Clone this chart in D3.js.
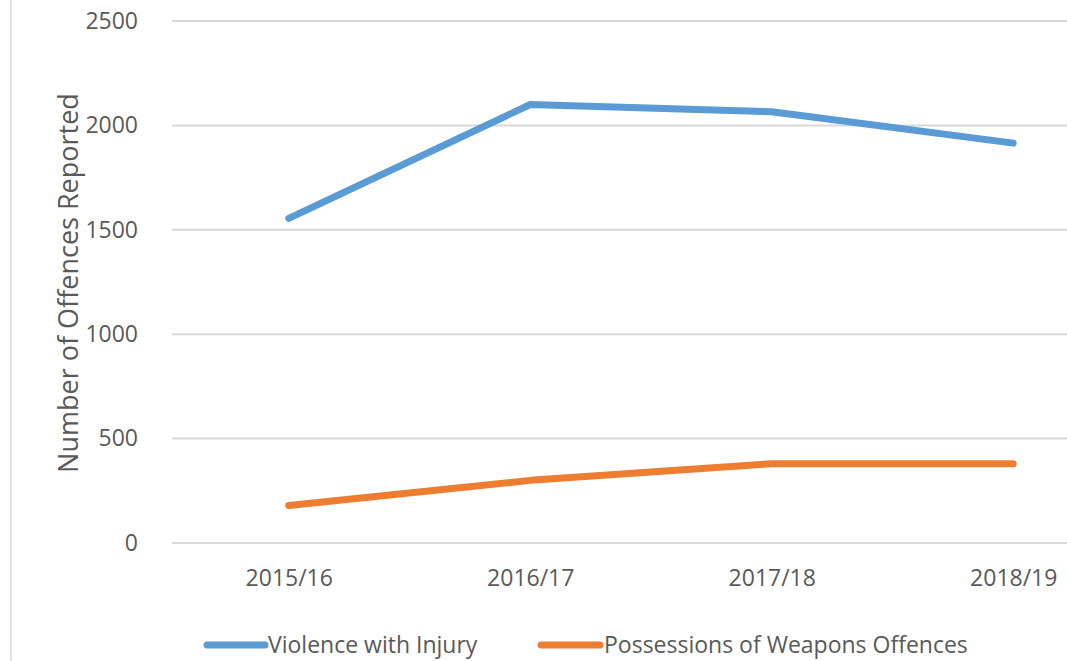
<!DOCTYPE html>
<html>
<head>
<meta charset="utf-8">
<script src="https://cdn.jsdelivr.net/npm/d3@7"></script>
<style>
  body { margin: 0; background: #fff; }
  text { font-family: "Open Sans", sans-serif; fill: #595959; }
</style>
</head>
<body>
<div id="chart"></div>
<script>
const years = ["2015/16", "2016/17", "2017/18", "2018/19"];
const violence = [1555, 2100, 2065, 1915];
const weapons = [180, 300, 380, 380];
const yTicks = [0, 500, 1000, 1500, 2000, 2500];
const seriesNames = ["Violence with Injury", "Possessions of Weapons Offences"];
const colors = ["#5B9BD5", "#ED7D31"];

const W = 1067, H = 661;
const margin = {top: 21, left: 168, bottom: 118};
const plotW = 966; // plot runs past the right edge like the cropped original
const height = H - margin.top - margin.bottom;

const svg = d3.select("#chart").append("svg")
    .attr("width", W)
    .attr("height", H);

// thin frame edge on the left
svg.append("line")
    .attr("x1", 11).attr("x2", 11)
    .attr("y1", 0).attr("y2", H)
    .attr("stroke", "#d9d9d9")
    .attr("stroke-width", 1.5);

const g = svg.append("g")
    .attr("transform", "translate(" + margin.left + "," + margin.top + ")");

const x = d3.scalePoint().domain(years).range([0, plotW]).padding(0.5);
const y = d3.scaleLinear().domain([0, 2500]).range([height, 0]);

// gridlines
g.selectAll(".grid")
    .data(yTicks)
    .enter().append("line")
    .attr("class", "grid")
    .attr("x1", 4).attr("x2", plotW)
    .attr("y1", d => y(d)).attr("y2", d => y(d))
    .attr("stroke", "#d9d9d9")
    .attr("stroke-width", 2);

// y axis labels
const yAxis = d3.axisLeft(y).tickValues(yTicks).tickFormat(d3.format("d")).tickSize(0).tickPadding(30);
g.append("g").call(yAxis)
    .call(s => s.select(".domain").remove())
    .selectAll("text")
    .style("font-size", "23px")
    .attr("fill", "#595959");

// x axis labels
const xAxis = d3.axisBottom(x).tickSize(0).tickPadding(27);
g.append("g")
    .attr("transform", "translate(0," + height + ")")
    .call(xAxis)
    .call(s => s.select(".domain").remove())
    .selectAll("text")
    .style("font-size", "23px")
    .attr("fill", "#595959");

// y title
svg.append("text")
    .attr("transform", "translate(78,283) rotate(-90)")
    .attr("text-anchor", "middle")
    .style("font-size", "27px")
    .text("Number of Offences Reported");

// lines
const line = d3.line()
    .x((d, i) => x(years[i]))
    .y(d => y(d));

[violence, weapons].forEach(function(vals, i) {
    g.append("path")
        .datum(vals)
        .attr("fill", "none")
        .attr("stroke", colors[i])
        .attr("stroke-width", 7)
        .attr("stroke-linecap", "round")
        .attr("stroke-linejoin", "round")
        .attr("d", line);
});

// legend
const legendItems = [
    {name: seriesNames[0], color: colors[0], x1: 207, x2: 265, tx: 268},
    {name: seriesNames[1], color: colors[1], x1: 541, x2: 600, tx: 604}
];
const leg = svg.selectAll(".legend")
    .data(legendItems)
    .enter().append("g")
    .attr("class", "legend");
leg.append("line")
    .attr("x1", d => d.x1).attr("x2", d => d.x2)
    .attr("y1", 645).attr("y2", 645)
    .attr("stroke", d => d.color)
    .attr("stroke-width", 7)
    .attr("stroke-linecap", "round");
leg.append("text")
    .attr("x", d => d.tx)
    .attr("y", 653)
    .style("font-size", "23px")
    .text(d => d.name);
</script>
</body>
</html>
